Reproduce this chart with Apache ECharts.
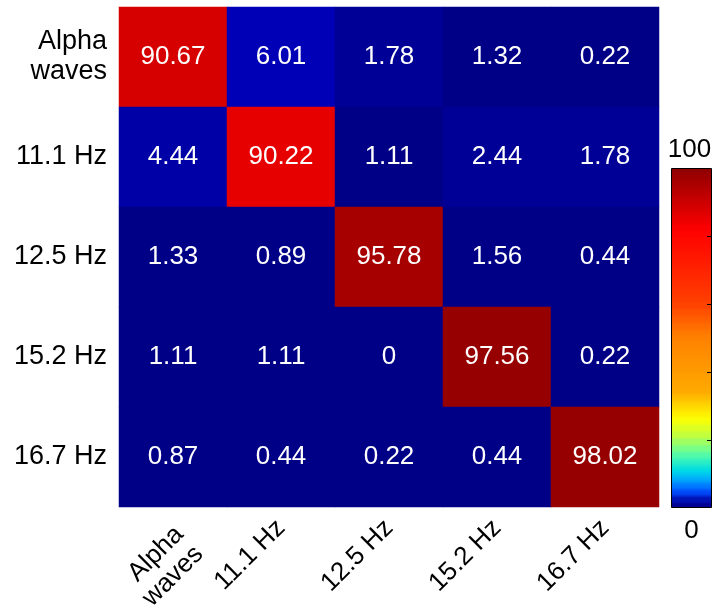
<!DOCTYPE html>
<html>
<head>
<meta charset="utf-8">
<script src="https://cdn.jsdelivr.net/npm/echarts@6/dist/echarts.min.js"></script>
<style>
html,body{margin:0;padding:0;background:#fff;}
#chart{width:713px;height:605px;}
</style>
</head>
<body>
<div id="chart"></div>
<script>
var categories = ['Alpha\nwaves', '11.1 Hz', '12.5 Hz', '15.2 Hz', '16.7 Hz'];
// rows = actual class (top to bottom), columns = predicted (left to right)
var rowAlpha = [90.67, 6.01, 1.78, 1.32, 0.22];
var row111   = [4.44, 90.22, 1.11, 2.44, 1.78];
var row125   = [1.33, 0.89, 95.78, 1.56, 0.44];
var row152   = [1.11, 1.11, 0, 97.56, 0.22];
var row167   = [0.87, 0.44, 0.22, 0.44, 98.02];
var colorbarLabels = ['100', '0'];
var colorMin = 0, colorMax = 100;

var rows = [rowAlpha, row111, row125, row152, row167];
var data = [];
rows.forEach(function (r, yi) {
  r.forEach(function (v, xi) { data.push([xi, yi, v]); });
});

// MATLAB-style jet(64) colormap for cells
function jetColor(t) {
  function c(x) { return Math.max(0, Math.min(1, x)); }
  var r = c(1.5 - Math.abs(4 * t - 3));
  var g = c(1.5 - Math.abs(4 * t - 2));
  var b = c(1.5 - Math.abs(4 * t - 1));
  return 'rgb(' + Math.round(r * 255) + ',' + Math.round(g * 255) + ',' + Math.round(b * 255) + ')';
}
var N = 64, pieces = [];
for (var i = 0; i < N; i++) {
  var p = {gte: colorMin + (colorMax - colorMin) * i / N, color: jetColor((i + 0.5) / N)};
  if (i < N - 1) p.lt = colorMin + (colorMax - colorMin) * (i + 1) / N; else p.lte = colorMax;
  pieces.push(p);
}

// colour stops of the displayed colour bar (fraction from bottom, colour)
var barStops = [
  [0.000, [0, 0, 140]], [0.024, [0, 0, 160]], [0.053, [0, 80, 255]], [0.088, [0, 170, 255]],
  [0.118, [0, 225, 225]], [0.165, [96, 255, 160]], [0.215, [192, 255, 64]], [0.265, [255, 255, 0]],
  [0.342, [255, 170, 0]], [0.504, [255, 128, 0]], [0.600, [255, 64, 0]], [0.814, [255, 0, 0]], [1.000, [138, 0, 0]]
];
var barColors = [];
var BANDS = 48;
for (var j = 0; j < BANDS; j++) {
  var f = (j + 0.5) / BANDS, s = 0;
  while (s < barStops.length - 2 && barStops[s + 1][0] < f) s++;
  var a = barStops[s], b2 = barStops[s + 1], u = (f - a[0]) / (b2[0] - a[0]);
  var col = a[1].map(function (v, k) { return Math.round(v + (b2[1][k] - v) * u); });
  var cs = 'rgb(' + col.join(',') + ')';
  barColors.push(cs, cs);
}

var FONT = 'Liberation Sans, Arial, Helvetica, sans-serif';
var chart = echarts.init(document.getElementById('chart'), null, {renderer: 'canvas'});
var gLeft = 119, gTop = 7, gRight = 659, gBottom = 507;
var cbX = 671, cbY = 168, cbW = 41, cbH = 340;

var ticks = [];
for (var k = 1; k <= 4; k++) {
  var ty = Math.round(cbY + cbH * k / 5) + 0.5;
  ticks.push({type: 'line', shape: {x1: cbX + cbW - 5, y1: ty, x2: cbX + cbW, y2: ty}, style: {stroke: '#000', lineWidth: 1}, z: 100});
}

chart.setOption({
  backgroundColor: '#fff',
  animation: false,
  grid: {left: gLeft, top: gTop, right: 713 - gRight, bottom: 605 - gBottom, containLabel: false, outerBoundsMode: 'none'},
  xAxis: {
    type: 'category', data: categories,
    axisLine: {show: false}, axisTick: {show: false}, splitLine: {show: false},
    axisLabel: {rotate: 45, fontSize: 26, fontFamily: FONT, color: '#000', lineHeight: 28, margin: 17, interval: 0,
      formatter: function (v) {
        if (v.indexOf('\n') >= 0) {
          return '{gap|}\n' + v.split('\n').map(function (s) { return '{t|' + s + '}'; }).join('\n');
        }
        return '{t|' + v + '}';
      },
      rich: {
        gap: {lineHeight: 46, fontSize: 26, fontFamily: FONT},
        t: {fontSize: 26, fontFamily: FONT, color: '#000', lineHeight: 28}
      }
    }
  },
  yAxis: {
    type: 'category', data: categories, inverse: true,
    axisLine: {show: false}, axisTick: {show: false}, splitLine: {show: false},
    axisLabel: {fontSize: 27, fontFamily: FONT, color: '#000', lineHeight: 30, margin: 12, align: 'right', interval: 0}
  },
  visualMap: [{
    type: 'piecewise', show: false, seriesIndex: 0, dimension: 2,
    min: colorMin, max: colorMax, pieces: pieces
  }, {
    type: 'continuous', min: colorMin, max: colorMax, calculable: false, show: true, seriesIndex: 1,
    orient: 'vertical', left: cbX, top: cbY, itemWidth: cbW, itemHeight: cbH, padding: 0,
    text: null, showLabel: false,
    inRange: {color: barColors}
  }],
  series: [{
    type: 'heatmap', data: data,
    label: {show: true, color: '#fff', fontSize: 26, fontFamily: FONT,
      formatter: function (p) { return String(p.value[2]); }},
    itemStyle: {borderWidth: 0},
    emphasis: {disabled: true}
  }, {
    type: 'heatmap', data: [], silent: true
  }],
  graphic: [
    {type: 'rect', shape: {x: cbX + 0.5, y: cbY + 0.5, width: cbW - 1, height: cbH - 1}, style: {fill: null, stroke: '#000', lineWidth: 1}, z: 100},
    {type: 'text', x: cbX + cbW / 2 - 2, y: cbY - 5, style: {text: colorbarLabels[0], fontSize: 26, fontFamily: FONT, fill: '#000', textAlign: 'center', textVerticalAlign: 'bottom'}, z: 100},
    {type: 'text', x: cbX + cbW / 2, y: cbY + cbH + 10, style: {text: colorbarLabels[1], fontSize: 26, fontFamily: FONT, fill: '#000', textAlign: 'center', textVerticalAlign: 'top'}, z: 100}
  ].concat(ticks)
});
</script>
</body>
</html>
